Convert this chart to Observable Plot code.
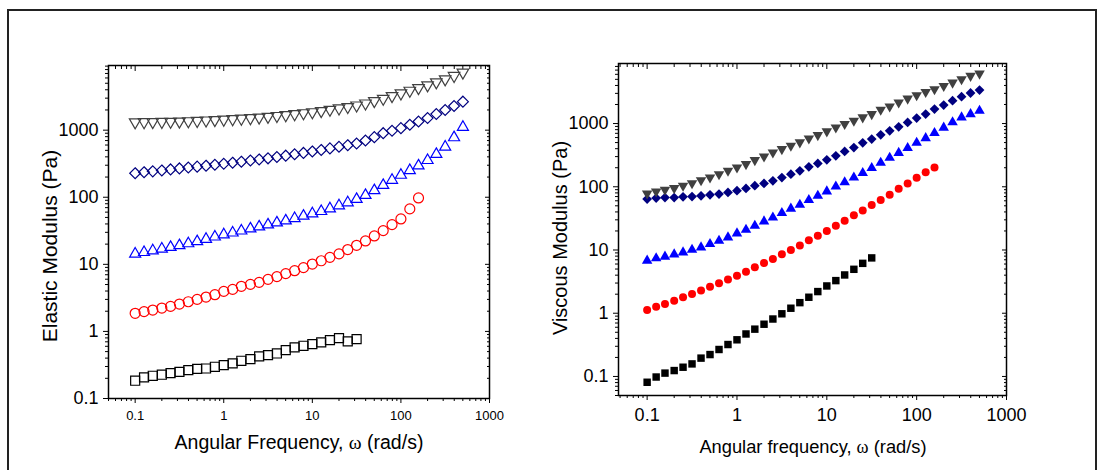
<!DOCTYPE html>
<html><head><meta charset="utf-8">
<script src="https://cdn.jsdelivr.net/npm/d3@7"></script>
<script src="https://cdn.jsdelivr.net/npm/@observablehq/plot@0.6"></script>
<style>
body{margin:0;background:#fff;font-family:"Liberation Sans",Arial,sans-serif;}
#fig{position:relative;width:1102px;height:470px;overflow:hidden;background:#fff;}
#border{position:absolute;left:7px;top:9px;width:1086px;height:480px;border:2px solid #222;}
.panel{position:absolute;top:0;}
.title{position:absolute;white-space:nowrap;line-height:1;color:#000;font-family:"Liberation Sans",Arial,sans-serif;}
.w{font-family:"Liberation Serif",serif;}
</style></head><body>
<div id="fig">
<div id="border"></div>
<div id="left" class="panel" style="left:0px"></div>
<div id="right" class="panel" style="left:550px"></div>
<div class="title" style="left:49px;top:246px;font-size:21px;transform:translate(-50%,-50%) rotate(-90deg)">Elastic Modulus (Pa)</div>
<div class="title" style="left:560px;top:238px;font-size:20px;transform:translate(-50%,-50%) rotate(-90deg)">Viscous Modulus (Pa)</div>
<div class="title" style="left:299px;top:443px;font-size:19.5px;transform:translate(-50%,-50%)">Angular Frequency, <span class="w">ω</span> (rad/s)</div>
<div class="title" style="left:813px;top:447px;font-size:18.3px;transform:translate(-50%,-50%)">Angular frequency, <span class="w">ω</span> (rad/s)</div>
</div>
<script>
// Angular frequency (rad/s), 10 points per decade
const freq = [0.1,0.126,0.158,0.2,0.251,0.316,0.398,0.501,0.631,0.794,
  1,1.26,1.58,2,2.51,3.16,3.98,5.01,6.31,7.94,
  10,12.6,15.8,20,25.1,31.6,39.8,50.1,63.1,79.4,
  100,126,158,200,251,316,398,501];

// Elastic modulus G' (Pa) – left panel, open symbols
const elasticGray = [1315,1321,1327,1334,1340,1349,1365,1380,1400,1419,
  1442,1466,1489,1517,1549,1585,1633,1683,1738,1795,
  1858,1936,2023,2118,2223,2344,2512,2723,2951,3236,
  3548,3890,4266,4677,5188,5754,6457,7244];
const elasticNavy = [228,236,243,251,260,269,277,286,295,305,
  315,327,339,352,366,380,398,417,437,458,
  481,507,535,565,597,631,700,787,902,977,
  1072,1202,1346,1514,1738,1995,2291,2661];
const elasticBlue = [14.3,15.1,16.0,17.0,18.0,19.1,20.4,21.9,23.7,25.7,
  27.7,29.5,31.6,33.9,36.3,38.9,41.7,44.7,48.4,52.5,
  56.9,61.7,67.6,75.0,83.2,93.3,107,126,151,180,
  214,251,295,355,437,562,776,1109];
const elasticRed = [1.86,1.97,2.08,2.23,2.36,2.56,2.77,3.0,3.25,3.53,
  3.95,4.23,4.7,5.03,5.39,5.97,6.55,7.26,8.04,8.92,
  10.1,11.3,12.7,14.3,16.6,19.2,22.3,26.5,31.8,39.1,
  47.5,67,97.7];
const elasticBlack = [0.184,0.206,0.218,0.226,0.239,0.250,0.265,0.277,0.280,0.297,
  0.314,0.333,0.365,0.386,0.424,0.443,0.469,0.526,0.577,0.611,
  0.647,0.685,0.742,0.795,0.709,0.768];

// Viscous modulus G'' (Pa) – right panel, filled symbols
const viscousGray = [78.5,84.3,89.6,95.2,104,114,127,140,158,179,
  202,228,264,302,349,394,445,503,580,656,
  752,868,982,1110,1250,1410,1650,1860,2150,2480,
  2800,3160,3480,3930,4440,5020,5670,6150];
const viscousNavy = [63.9,66.3,67.6,67.6,69.3,70,72,74.6,76.6,81.4,
  86.6,94.3,104,113,124,140,158,179,207,234,
  267,308,362,417,496,567,664,767,888,1040,
  1220,1410,1690,1960,2300,2660,3040,3380];
const viscousBlue = [6.79,7.38,7.85,8.53,9.17,10.1,11.0,12.4,14.0,15.8,
  18.3,20.9,24.2,28.3,32.7,38.4,45.1,52.0,61.6,72.2,
  84.4,101,118,140,165,198,239,287,343,410,
  496,587,707,860,1050,1250,1410,1590];
const viscousRed = [1.13,1.27,1.40,1.58,1.79,2.02,2.28,2.63,2.97,3.4,
  3.93,4.54,5.32,6.23,7.2,8.53,10.0,11.8,14.2,16.8,
  19.9,24.2,29.0,35.3,42.2,51.3,61.6,74.9,93,113,
  139,170,202];
const viscousBlack = [0.081,0.098,0.113,0.124,0.14,0.158,0.195,0.222,0.267,0.32,
  0.38,0.47,0.56,0.67,0.81,0.98,1.2,1.47,1.79,2.2,
  2.7,3.28,4.03,4.95,6.15,7.5];

// Tick labels
const majorTicks = [0.1,1,10,100,1000];

function rows(vals){ return vals.map((v,i)=>({f:freq[i], v})); }
function minorTicks(lo, hi){
  const out=[];
  for (let e=-2;e<=4;e++) for (let m=2;m<=9;m++){ const t=+(m*Math.pow(10,e)).toPrecision(3); if(t>=lo*0.999 && t<=hi*1.001) out.push(t);} 
  return out;
}
const invTriangle = {draw(ctx,size){const y=Math.sqrt(size/(Math.sqrt(3)*3)); ctx.moveTo(0,2*y); ctx.lineTo(-Math.sqrt(3)*y,-y); ctx.lineTo(Math.sqrt(3)*y,-y); ctx.closePath();}};

function axes(xd, yd, o){
  const xMaj = majorTicks.filter(t=>t>=xd[0]&&t<=xd[1]);
  const yMaj = majorTicks.filter(t=>t>=yd[0]&&t<=yd[1]);
  const xMin = minorTicks(xd[0], xd[1]);
  const yMin = minorTicks(yd[0], yd[1]);
  const blank = ()=>"";
  return [
    Plot.axisX({ticks:xMaj, anchor:"bottom", tickSize:5, tickPadding:o.xPad, fontSize:o.xFont, tickFormat:d=>String(d), label:null}),
    Plot.axisX({ticks:xMin, anchor:"bottom", tickSize:3, tickFormat:blank, label:null}),
    Plot.axisX({ticks:xMaj, anchor:"top", tickSize:-5, tickFormat:blank, label:null}),
    Plot.axisX({ticks:xMin, anchor:"top", tickSize:-3, tickFormat:blank, label:null}),
    Plot.axisY({ticks:yMaj, anchor:"left", tickSize:5, tickPadding:o.yPad, fontSize:o.yFont, tickFormat:d=>String(d), label:null}),
    Plot.axisY({ticks:yMin, anchor:"left", tickSize:3, tickFormat:blank, label:null}),
    Plot.axisY({ticks:yMaj, anchor:"right", tickSize:-5, tickFormat:blank, label:null}),
    Plot.axisY({ticks:yMin, anchor:"right", tickSize:-3, tickFormat:blank, label:null}),
    Plot.frame({stroke:"#000", strokeWidth:1.5})
  ];
}

const GRAY="#404040", NAVY="#000080", BLUE="#0000ff", RED="#ff0000", BLACK="#000000";

const xdL=[0.05,1000], ydL=[0.1,9200];
const left = Plot.plot({
  width:550, height:470,
  marginLeft:108, marginRight:61, marginTop:65, marginBottom:72,
  style:{background:"transparent", fontFamily:"Liberation Sans, Arial, sans-serif", color:"#000"},
  x:{type:"log", domain:xdL, axis:null},
  y:{type:"log", domain:ydL, axis:null},
  marks:[
    ...axes(xdL, ydL, {xPad:7, xFont:13, yPad:5, yFont:18}),
    Plot.dot(rows(elasticBlack), {x:"f", y:"v", symbol:"square", r:5.1, stroke:BLACK, fill:"none", strokeWidth:1.2}),
    Plot.dot(rows(elasticRed), {x:"f", y:"v", symbol:"circle", r:5.0, stroke:RED, fill:"none", strokeWidth:1.2}),
    Plot.dot(rows(elasticBlue), {x:"f", y:"v", symbol:"triangle", r:4.1, stroke:BLUE, fill:"none", strokeWidth:1.2}),
    Plot.dot(rows(elasticNavy), {x:"f", y:"v", symbol:"diamond2", r:4.9, stroke:NAVY, fill:"none", strokeWidth:1.2}),
    Plot.dot(rows(elasticGray), {x:"f", y:"v", symbol:invTriangle, r:4.3, stroke:GRAY, fill:"none", strokeWidth:1.2})
  ]
});
document.getElementById("left").appendChild(left);

const xdR=[0.048,1000], ydR=[0.05,8900];
const right = Plot.plot({
  width:552, height:470,
  marginLeft:68, marginRight:96, marginTop:63, marginBottom:75,
  style:{background:"transparent", fontFamily:"Liberation Sans, Arial, sans-serif", color:"#000"},
  x:{type:"log", domain:xdR, axis:null},
  y:{type:"log", domain:ydR, axis:null},
  marks:[
    ...axes(xdR, ydR, {xPad:8, xFont:18, yPad:5, yFont:18}),
    Plot.dot(rows(viscousBlack), {x:"f", y:"v", symbol:"square", r:4.2, fill:BLACK}),
    Plot.dot(rows(viscousRed), {x:"f", y:"v", symbol:"circle", r:4.0, fill:RED}),
    Plot.dot(rows(viscousBlue), {x:"f", y:"v", symbol:"triangle", r:3.9, fill:BLUE}),
    Plot.dot(rows(viscousNavy), {x:"f", y:"v", symbol:"diamond2", r:4.4, fill:NAVY}),
    Plot.dot(rows(viscousGray), {x:"f", y:"v", symbol:invTriangle, r:3.9, fill:GRAY})
  ]
});
document.getElementById("right").appendChild(right);
</script>
</body></html>
